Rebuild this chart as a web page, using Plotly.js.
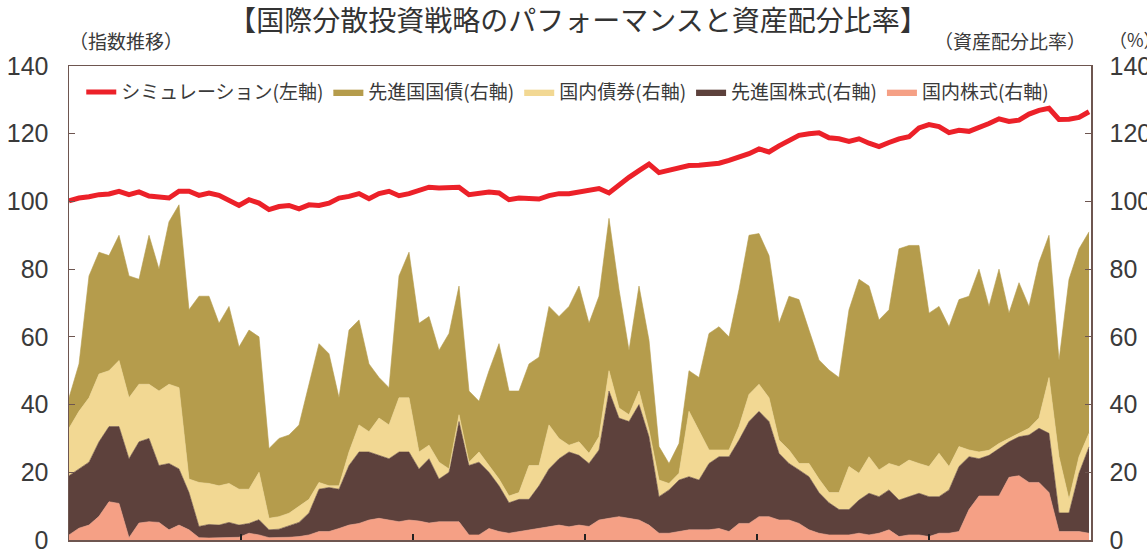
<!DOCTYPE html>
<html>
<head>
<meta charset="utf-8">
<script src="https://cdn.plot.ly/plotly-3.0.1.min.js"></script>
<style>
  html, body { margin: 0; padding: 0; background: #fff; }
  #chart { width: 1147px; height: 557px; }
</style>
</head>
<body>
<div id="chart"></div>
<script>
// Index level of the simulated strategy (left axis)
const simulation = [
  100.2, 101, 101.4, 102, 102.2, 103, 102, 102.8, 101.6, 101.2,
  101, 103, 103, 101.8, 102.5, 101.8, 100.3, 98.8, 100.5, 99.5,
  97.6, 98.5, 98.8, 97.8, 99, 98.8, 99.5, 101, 101.5, 102.3,
  100.8, 102.3, 103, 101.7, 102.3, 103.3, 104.2, 104, 104, 104.2,
  102, 102.5, 102.8, 102.5, 100.5, 101, 101, 100.7, 101.7, 102.3,
  102.3, 102.8, 103.2, 103.8, 102.5, 105, 107.1, 109.1, 111, 108.5,
  109.2, 109.7, 110.6, 110.7, 111.1, 111.3, 112.1, 113.1, 114.1, 115.5,
  114.6, 116.4, 118, 119.5, 120, 120.3, 118.8, 118.5, 117.7, 118.5,
  117.2, 116.2, 117.4, 118.5, 119.1, 121.7, 122.7, 122.1, 120.3, 121,
  120.7, 121.8, 123, 124.4, 123.6, 124, 125.8, 126.9, 127.5, 124.2,
  124.3, 124.8, 126.5
];

// Asset allocation (%), right axis — stacked bottom to top
const domesticStocks = [
  1.5, 3.5, 4.4, 7, 11.3, 10.8, 0.7, 5, 5.4, 5.2,
  3, 4.4, 3, 0.7, 0.6, 0.6, 0.6, 0.8, 2, 1.5,
  0.7, 0.7, 0.8, 1, 1.5, 2.5, 2.5, 3.4, 4.4, 4.9,
  5.9, 6.4, 5.9, 5.4, 5.9, 5.6, 5, 5.4, 5.4, 5.4,
  1.5, 1.5, 3.4, 2.5, 2, 2.5, 3, 3.4, 3.9, 4.4,
  3.9, 4.4, 4, 5.9, 6.4, 6.9, 6.4, 5.9, 4.4, 2,
  2, 2.5, 3, 3, 3, 3.4, 2.5, 4.9, 4.9, 6.9,
  6.9, 5.9, 5.9, 4.9, 3, 2, 1.5, 1.5, 1.5, 2,
  1.5, 2, 3, 1, 1.5, 1.5, 1, 2, 2, 2.5,
  9, 13, 13, 13, 18.5, 19, 17, 17, 14, 2.5,
  2.5, 2.5, 2
];
const developedStocks = [
  17.5, 17.5, 18.6, 22, 22.2, 22.7, 23.3, 24, 24.6, 16.8,
  19.6, 16.6, 11, 3.3, 4, 3.8, 4.6, 3.6, 2.9, 4.5,
  2.3, 2.5, 3.4, 4.2, 6.5, 12.5, 13, 11.6, 17.6, 21.1,
  20.1, 18.6, 18.1, 20.6, 20.1, 15.4, 19, 12.6, 14.6, 29.6,
  20.5, 21.5, 16.6, 13.5, 9, 9.5, 9, 12.6, 17.1, 19.6,
  22.1, 20.6, 18.6, 20.7, 37.6, 29.1, 28.6, 34.1, 26.1, 10.8,
  12.8, 15.2, 15.7, 14.7, 19.6, 21.2, 22.1, 24.6, 30.1, 31.1,
  28.1, 19.7, 16.7, 15.8, 15.7, 12, 9.5, 7.5, 7.5, 9.8,
  12.3, 10.8, 11.8, 10.8, 11.3, 12.3, 11.8, 10.8, 12.8, 19.2,
  15.6, 11, 12, 14, 10.5, 11.5, 14, 16, 17.5, 5.5,
  5.5, 17.2, 25.5
];
const domesticBonds = [
  14, 17, 19, 20, 16.5, 19.5, 18, 17, 16, 22,
  23.4, 24, 4, 13, 12.1, 11.6, 11.5, 10.6, 10.1, 14,
  3.4, 3.7, 3.7, 4.7, 4, 2, 0.5, 1, 4, 8,
  6, 11, 10, 16, 16, 5, 4, 5, 1, 2,
  1, 3, 2, 2, 2, 2, 10, 6, 13, 6,
  2, 4, 3, 3.9, 6, 3, 2, 4, 2, 4.9,
  1.9, 2, 19.3, 14.8, 4, 2, 2, 4, 8, 8,
  7, 3.9, 4, 1.9, 3.9, 4, 3, 5, 12.7, 7.9,
  10.8, 7.9, 7.8, 9.9, 10.8, 8.8, 8.9, 12.8, 6.9, 5.9,
  2, 2, 1.5, 1.5, 1, 1, 2, 3, 16.5, 16.6,
  4, 4.9, 4
];
const developedBonds = [
  9, 14, 36, 36, 34, 37, 36, 31, 44, 36,
  48, 54, 50, 55, 55.3, 48, 52.3, 42, 47, 40,
  20.6, 23.1, 23.1, 24.1, 34, 41, 39, 26, 36, 31,
  20, 12, 11, 36, 43, 38, 38, 33, 40, 38,
  21, 15, 28, 40, 31, 30, 30, 32, 35, 36,
  41, 46, 38.4, 41.5, 45, 35, 19, 31, 26.5, 9.9,
  5.9, 8.8, 12, 15.5, 34.4, 36.4, 33.4, 40.5, 47, 44.5,
  42, 34.5, 45.4, 48.4, 39.4, 35.2, 36.2, 34, 46.3, 57.3,
  50.4, 44.3, 45.4, 64.3, 63.4, 64.4, 45.3, 43.4, 41.3, 43.4,
  45.4, 54, 42.5, 51.5, 37, 44.5, 36, 46, 42, 28.4,
  65, 61.4, 59.5
];

const seriesNames = {
  sim: 'シミュレーション(左軸)',
  devBond: '先進国国債(右軸)',
  domBond: '国内債券(右軸)',
  devStock: '先進国株式(右軸)',
  domStock: '国内株式(右軸)'
};
const titleText = '【国際分散投資戦略のパフォーマンスと資産配分比率】';
const leftUnit = '（指数推移）';
const rightUnit = '（資産配分比率）';
const pctUnit = '（%）';
const yTicks = [0, 20, 40, 60, 80, 100, 120, 140];

const t = simulation.map((_, i) => i);

const CJK = '"Noto Sans CJK JP", "Noto Sans", sans-serif';
const NUM = '"Liberation Sans", Arial, sans-serif';
const textColor = '#3a3a3a';
const axisColor = '#6e5650';

function area(y, name, color, rank) {
  return {
    x: t, y: y, name: name, type: 'scatter', mode: 'lines',
    stackgroup: 'alloc', yaxis: 'y2',
    line: { color: color, width: 0.6, shape: 'linear' },
    fillcolor: color, legendrank: rank, hoverinfo: 'skip'
  };
}

const traces = [
  area(domesticStocks, seriesNames.domStock, '#F5A085', 5),
  area(developedStocks, seriesNames.devStock, '#5D413C', 4),
  area(domesticBonds, seriesNames.domBond, '#F2D893', 3),
  area(developedBonds, seriesNames.devBond, '#B59C4C', 2),
  {
    x: t, y: simulation, name: seriesNames.sim, type: 'scatter', mode: 'lines',
    yaxis: 'y', line: { color: '#EC2129', width: 5 }, legendrank: 1
  }
];

const step = 1022 / 10; // x-range in index units
const yAxisBase = {
  range: [0, 140], tickvals: yTicks, ticks: 'inside', ticklen: 6,
  tickcolor: axisColor, tickwidth: 1.2,
  showline: true, linecolor: axisColor, linewidth: 1.5,
  showgrid: false, zeroline: false,
  tickfont: { family: NUM, size: 25, color: textColor },
  fixedrange: true
};

const layout = {
  width: 1147, height: 557,
  margin: { l: 69, r: 56, t: 66, b: 17 },
  paper_bgcolor: '#ffffff', plot_bgcolor: '#ffffff',
  showlegend: true,
  title: {
    text: titleText, x: 0.504, xanchor: 'center', xref: 'container',
    y: 0.962, yanchor: 'middle', yref: 'container',
    font: { family: CJK, size: 28, color: '#333333', weight: 400 }
  },
  xaxis: {
    range: [0, step], showticklabels: false,
    tickvals: [17.2, 34.4, 51.6, 68.8, 86],
    ticks: 'inside', ticklen: 6, tickcolor: '#222', tickwidth: 1.2,
    showline: true, linecolor: axisColor, linewidth: 1.5, mirror: true,
    showgrid: false, zeroline: false, fixedrange: true
  },
  yaxis2: Object.assign({}, yAxisBase, { side: 'right', anchor: 'x', ticklabelstandoff: 12 }),
  yaxis: Object.assign({}, yAxisBase, { side: 'left', overlaying: 'y2', anchor: 'x', ticklabelstandoff: 14 }),
  legend: {
    orientation: 'h', x: 0.012, y: 0.985, xanchor: 'left', yanchor: 'top',
    bgcolor: 'rgba(0,0,0,0)', font: { family: CJK, size: 19, color: textColor },
    traceorder: 'normal', itemwidth: 30, itemclick: false
  },
  annotations: [
    { text: leftUnit, xref: 'paper', yref: 'paper', x: -0.002, y: 1.054, xanchor: 'left', yanchor: 'middle',
      showarrow: false, font: { family: CJK, size: 19, color: textColor } },
    { text: rightUnit, xref: 'paper', yref: 'paper', x: 0.997, y: 1.054, xanchor: 'right', yanchor: 'middle',
      showarrow: false, font: { family: CJK, size: 19, color: textColor } },
    { text: pctUnit, xref: 'paper', yref: 'paper', x: 1.016, y: 1.058, xanchor: 'left', yanchor: 'middle',
      showarrow: false, font: { family: CJK, size: 18, color: textColor } }
  ]
};

Plotly.newPlot('chart', traces, layout, { staticPlot: true, displayModeBar: false });
</script>
</body>
</html>
